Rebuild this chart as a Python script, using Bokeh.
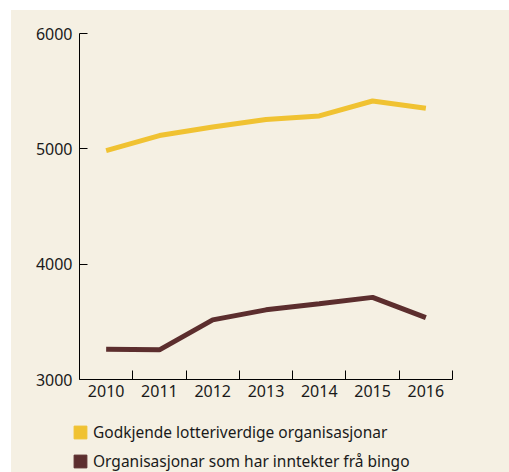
from bokeh.plotting import figure
from bokeh.layouts import column
from bokeh.models import FixedTicker, Legend, LegendItem, Range1d
from bokeh.embed import file_html
from bokeh.resources import INLINE

years = [2010, 2011, 2012, 2013, 2014, 2015, 2016]
godkjende = [4985, 5115, 5190, 5255, 5285, 5415, 5352]
bingo = [3263, 3257, 3517, 3604, 3657, 3712, 3537]
y_ticks = [3000, 4000, 5000, 6000]
label_godkjende = "Godkjende lotteriverdige organisasjonar"
label_bingo = "Organisasjonar som har inntekter frå bingo"

BG = "#f5f0e3"
FONT = "Noto Sans"
C1 = "#f0c232"
C2 = "#5c2e2e"
TXT = "#1a1a1a"

p = figure(width=498, height=398, output_backend="svg", toolbar_location=None,
           x_range=Range1d(2009.5, 2016.5), y_range=Range1d(3000, 6000),
           background_fill_color=BG, border_fill_color=BG,
           min_border_left=68, min_border_right=57, min_border_top=23, min_border_bottom=29,
           outline_line_color=None)
p.grid.visible = False

p.line(years, godkjende, line_color=C1, line_width=5)
p.line(years, bingo, line_color=C2, line_width=5)

xa = p.xaxis[0]
xa.ticker = FixedTicker(ticks=years, minor_ticks=[y + 0.5 for y in years])
xa.major_tick_in = 0
xa.major_tick_out = 0
xa.minor_tick_in = 9
xa.minor_tick_out = 0
xa.minor_tick_line_color = "black"
xa.axis_line_color = "black"
xa.major_label_text_font = FONT
xa.major_label_text_font_size = "16px"
xa.major_label_text_color = TXT
xa.major_label_standoff = 5

ya = p.yaxis[0]
ya.ticker = FixedTicker(ticks=y_ticks, minor_ticks=[])
ya.major_tick_in = 8
ya.major_tick_out = 0
ya.major_tick_line_color = "black"
ya.axis_line_color = "black"
ya.major_label_text_font = FONT
ya.major_label_text_font_size = "16px"
ya.major_label_text_color = TXT
ya.major_label_standoff = 7

# legend-only figure below the chart
lg = figure(width=498, height=64, output_backend="svg", toolbar_location=None,
            x_range=Range1d(0, 1), y_range=Range1d(0, 1),
            x_axis_type=None, y_axis_type=None,
            background_fill_color=BG, border_fill_color=BG,
            min_border=0, outline_line_color=None)
lg.frame_align = False
p.frame_align = False
lg.grid.visible = False
q1 = lg.quad(left=[-10], right=[-9], bottom=[-10], top=[-9], color=C1)
q2 = lg.quad(left=[-10], right=[-9], bottom=[-10], top=[-9], color=C2)

legend = Legend(items=[LegendItem(label=label_godkjende, renderers=[q1]),
                       LegendItem(label=label_bingo, renderers=[q2])],
                location=(61, 0), orientation="vertical",
                background_fill_alpha=0, border_line_color=None,
                padding=0, margin=0, spacing=7,
                glyph_width=16, glyph_height=16, label_height=20,
                label_standoff=5, label_text_font=FONT,
                label_text_font_size="15.5px", label_text_color=TXT)
lg.add_layout(legend, "center")

layout = column(p, lg, spacing=0)
layout.margin = (10, 0, 0, 11)
layout.styles = {"background-color": BG}

open("out.html", "w").write(file_html(layout, INLINE))
